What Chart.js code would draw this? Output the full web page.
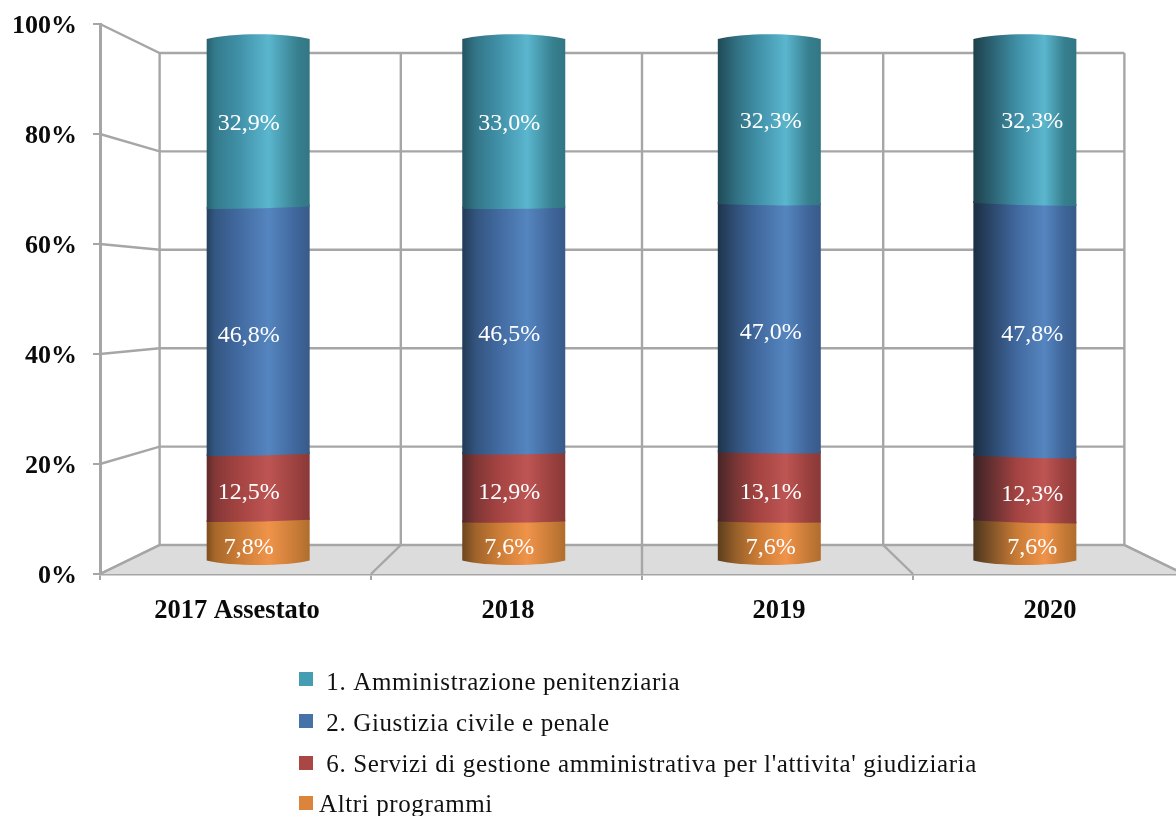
<!DOCTYPE html>
<html><head><meta charset="utf-8">
<style>html,body{margin:0;padding:0;background:#fff;overflow:hidden;width:1176px;height:816px}
#w{position:absolute;left:0;top:0;width:1176px;height:816px;overflow:hidden}
canvas{display:block;filter:blur(0.5px)}</style>
<script src="https://cdn.jsdelivr.net/npm/chart.js@4/dist/chart.umd.min.js"></script>
</head><body><div id="w"><canvas id="c" width="1190" height="816"></canvas></div>
<script>
const categories = ['2017 Assestato','2018','2019','2020'];
const seriesNames = ['Altri programmi',"6. Servizi di gestione amministrativa per l'attivita' giudiziaria",'2. Giustizia civile e penale','1. Amministrazione penitenziaria'];
const altri = [7.8,7.6,7.6,7.6];
const servizi = [12.5,12.9,13.1,12.3];
const giustizia = [46.8,46.5,47.0,47.8];
const amministrazione = [32.9,33.0,32.3,32.3];
const yTicks = [0,20,40,60,80,100];
const seriesValues = [altri,servizi,giustizia,amministrazione];
const palettes = [
 ['#7d4e1c','#c97b35','#f0934a','#c57a36'],
 ['#5e2a2a','#a34341','#bd5553','#9a403e'],
 ['#24405f','#41699f','#5585bf','#3f659a'],
 ['#27606f','#3f8fa6','#5ab6ce','#37808f']
];
const legendColors=['#dd843c','#aa4644','#4672a8','#449db3'];
const legendOrder=[3,2,1,0];
const legendPrefix=[' ',' ',' ',''];
const fmt=v=>v.toFixed(1).replace('.',',')+'%';
const FLOOR='#dcdcdc',GRID='#a6a6a6',SERIF='"Liberation Serif"';
const hex=s=>{if(s[0]==='#')return [1,3,5].map(i=>parseInt(s.substr(i,2),16));return s.match(/\d+/g).map(Number);};
const mix=(a,b,t)=>{const A=hex(a),B=hex(b);return 'rgb('+A.map((v,i)=>Math.round(v+(B[i]-v)*t)).join(',')+')';};
// bars further right show more of their shaded side
const shade=[.0,.15,.3,.45], hi=[.6,.63,.66,.69], tilt=[1.2,.5,-.5,-1.5], labelDx=[-9.5,-4.5,1.5,7.5], labelDy=[6,5,4,2.5];

const wall={
 id:'wall',
 beforeDatasetsDraw(ch){
  const c=ch.ctx,xs=ch.scales.x,yF=ch.scales.y,yW=ch.scales.yWall;
  const cx=642,k=.89,bx=v=>cx+(v-cx)*k;
  const L=xs.left,R=xs.right,band=(R-L)/categories.length,y0=yF.getPixelForValue(0),yb=yW.getPixelForValue(0);
  c.save();
  c.fillStyle=FLOOR;c.beginPath();c.moveTo(L,y0);c.lineTo(bx(L),yb);c.lineTo(bx(R),yb);c.lineTo(R,y0);c.closePath();c.fill();
  c.strokeStyle=GRID;c.lineWidth=2.4;
  yTicks.forEach(t=>{const a=yF.getPixelForValue(t),b=yW.getPixelForValue(t);
   c.beginPath();c.moveTo(L,a);c.lineTo(bx(L),b);c.lineTo(bx(R),b);c.stroke();
   if(t===0){c.beginPath();c.moveTo(bx(R),b);c.lineTo(R,a);c.stroke();}});
  const top=yW.getPixelForValue(100);
  for(let i=0;i<=categories.length;i++){const f=L+band*i;
   c.beginPath();c.moveTo(bx(f),top);c.lineTo(bx(f),yb);c.lineTo(f,y0);c.stroke();}
  c.restore();
 },
 beforeDatasetDraw(){return false;},
 afterDatasetsDraw(ch){
  const c=ch.ctx;
  for(let d=0;d<seriesValues.length;d++){
   ch.getDatasetMeta(d).data.forEach((el,i)=>{
    const p=el.getProps(['x','y','base','width'],true),w=p.width,l=p.x-w/2,r=p.x+w/2;
    const pal=palettes[d],g=c.createLinearGradient(l,0,r,0),dk=mix(pal[0],'#101820',shade[i]);
    g.addColorStop(0,dk);g.addColorStop(.08+.05*i,mix(dk,pal[1],.55));g.addColorStop(.3+.04*i,pal[1]);g.addColorStop(hi[i],pal[2]);g.addColorStop(.88,pal[3]);g.addColorStop(1,mix(pal[3],pal[0],.3));
    const t=tilt[i];
    c.save();c.fillStyle=g;c.beginPath();
    if(d===0){
     c.moveTo(l,p.base-1.5);
     c.bezierCurveTo(l+.22*w,p.base+4.5,r-.22*w,p.base+4.5,r,p.base-1.5);
    }else{
     c.moveTo(l,p.base+t);
     c.quadraticCurveTo(p.x,p.base+1.5,r,p.base-t);
    }
    if(d===seriesValues.length-1){
     c.lineTo(r,p.y+5);
     c.bezierCurveTo(r-.22*w,p.y-1.5,l+.22*w,p.y-1.5,l,p.y+5);
    }else{c.lineTo(r,p.y-2-t);c.lineTo(l,p.y-2+t);}
    c.closePath();c.fill();c.restore();
   });
  }
  c.save();c.font='24px '+SERIF;c.fillStyle='#fff';c.textAlign='center';c.textBaseline='middle';
  for(let d=0;d<seriesValues.length;d++){
   ch.getDatasetMeta(d).data.forEach((el,i)=>{
    const p=el.getProps(['x','y','base'],true);
    c.fillText(fmt(seriesValues[d][i]),p.x+labelDx[i],(p.y+p.base)/2+labelDy[d]);
   });
  }
  c.restore();
  c.save();c.font='25px '+SERIF;c.textBaseline='alphabetic';c.textAlign='left';c.letterSpacing='0.62px';
  const boxY=[672,714,756,796],baseY=[690,731,772,812],textX=[319.5,319.5,319.5,319];
  legendOrder.forEach((d,n)=>{
   c.fillStyle=legendColors[d];c.fillRect(299,boxY[n],14,14);
   c.fillStyle='#111';c.fillText(legendPrefix[n]+seriesNames[d],textX[n],baseY[n]);
  });
  c.restore();
 }
};

new Chart(document.getElementById('c'),{
 type:'bar',
 data:{labels:categories,datasets:seriesValues.map((v,d)=>({
   label:seriesNames[d],data:v.map((y,i)=>({x:i,y})),xAxisID:'xBar',yAxisID:'yBar',stack:'s',
   backgroundColor:legendColors[d],barThickness:103}))},
 options:{
  responsive:false,animation:false,
  layout:{padding:{top:24,right:6,left:0,bottom:0}},
  plugins:{legend:{display:false},tooltip:{enabled:false}},
  scales:{
   x:{type:'category',position:'bottom',offset:true,
      afterFit(s){s.height=242;s.paddingLeft=0;s.paddingRight=0;},
      border:{color:GRID,width:2.4},
      grid:{offset:true,drawOnChartArea:false,drawTicks:true,tickLength:6,color:GRID,lineWidth:2},
      ticks:{color:'#0a0a0a',padding:15,maxRotation:0,labelOffset:1.5,font:{family:SERIF,size:26.5,weight:'bold'}}},
   y:{type:'linear',position:'left',min:0,max:100,afterBuildTicks(s){s.ticks=yTicks.map(value=>({value}));},
      afterFit(s){s.width=100;s.paddingTop=0;s.paddingBottom=0;},
      border:{color:GRID,width:3},
      grid:{drawOnChartArea:false,drawTicks:true,tickLength:7,color:GRID,lineWidth:2},
      ticks:{color:'#0a0a0a',padding:16,labelOffset:2,callback:v=>v+'%',font:{family:SERIF,size:26,weight:'bold'}}},
   xBar:{type:'linear',display:false,stacked:true,offset:false,min:-0.619,max:3.6227},
   yBar:{type:'linear',display:false,stacked:true,min:-2.27,max:101.9},
   yWall:{type:'linear',display:false,min:-5.89,max:105.89}
  }
 },
 plugins:[wall]
});
</script></body></html>
